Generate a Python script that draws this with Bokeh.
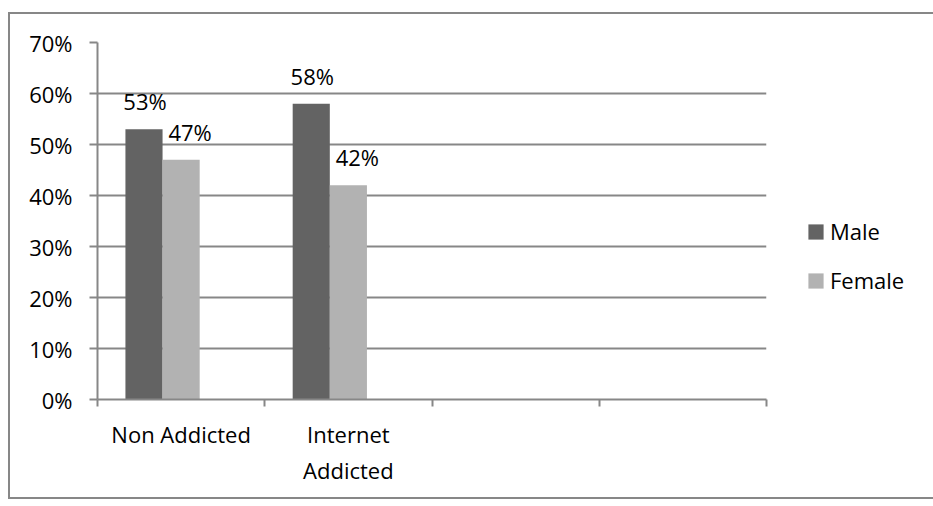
from bokeh.plotting import figure
from bokeh.models import (ColumnDataSource, FixedTicker, NumeralTickFormatter,
                          Legend, LegendItem)
from bokeh.core.properties import value
from bokeh.embed import file_html
from bokeh.resources import INLINE

categories = ["Non Addicted", "Internet\nAddicted", "", ""]
male = [0.53, 0.58]
female = [0.47, 0.42]
male_labels = ["53%", "58%"]
female_labels = ["47%", "42%"]

FONT = "Open Sans"
FS = "22px"
GRID = "#878787"
MALE_COLOR = "#636363"
FEMALE_COLOR = "#b2b2b2"

# each category holds three bar slots; the female bar sits in the middle one
bar_w = 0.222
centers = [i + 0.5 for i in range(len(male))]

p = figure(frame_width=669, frame_height=357, x_range=(0, 4), y_range=(0, 0.7),
           output_backend="svg", toolbar_location=None,
           min_border_left=87, min_border_right=167,
           min_border_top=28, min_border_bottom=98)
p.margin = (12, 0, 0, 8)
p.styles = {"border-left": f"2px solid {GRID}",
            "border-top": f"2px solid {GRID}",
            "border-bottom": f"2px solid {GRID}"}
p.outline_line_color = None
p.background_fill_color = "white"
p.border_fill_color = "white"

src_m = ColumnDataSource(dict(x=[c - bar_w for c in centers], top=male, lab=male_labels))
src_f = ColumnDataSource(dict(x=centers, top=female, lab=female_labels))

rm = p.vbar(x="x", top="top", width=bar_w, source=src_m, fill_color=MALE_COLOR, line_color=None)
rf = p.vbar(x="x", top="top", width=bar_w, source=src_f, fill_color=FEMALE_COLOR, line_color=None)

for s, dx in ((src_m, 1), (src_f, 9)):
    p.text(x="x", y="top", text="lab", source=s, text_align="center",
           text_baseline="bottom", y_offset=-13, x_offset=dx, text_font=value(FONT),
           text_font_size=FS, text_color="black")

# y axis
p.yaxis.ticker = FixedTicker(ticks=[i / 10 for i in range(8)])
p.yaxis.formatter = NumeralTickFormatter(format="0%")
p.yaxis.major_tick_out = 8
p.yaxis.major_tick_in = 0
p.yaxis.minor_tick_line_color = None
p.yaxis.major_label_standoff = 17
p.yaxis.axis_line_color = GRID
p.yaxis.axis_line_width = 2
p.yaxis.major_tick_line_color = GRID
p.yaxis.major_tick_line_width = 2
p.yaxis.major_label_text_font = FONT
p.yaxis.major_label_text_font_size = FS
p.yaxis.major_label_text_color = "black"

# x axis
p.xaxis.ticker = FixedTicker(ticks=[i + 0.5 for i in range(4)], minor_ticks=list(range(5)))
p.xaxis.major_label_overrides = {i + 0.5: c for i, c in enumerate(categories)}
p.xaxis.major_tick_line_color = None
p.xaxis.minor_tick_out = 7
p.xaxis.minor_tick_in = 0
p.xaxis.minor_tick_line_color = GRID
p.xaxis.minor_tick_line_width = 2
p.xaxis.axis_line_color = GRID
p.xaxis.axis_line_width = 2
p.xaxis.major_label_standoff = 12
p.xaxis.major_label_text_font = FONT
p.xaxis.major_label_text_font_size = FS
p.xaxis.major_label_text_color = "black"

p.xgrid.grid_line_color = None
p.ygrid.ticker = FixedTicker(ticks=[i / 10 for i in range(1, 8)])
p.ygrid.grid_line_color = GRID
p.ygrid.grid_line_width = 2

legend = Legend(items=[LegendItem(label="Male", renderers=[rm]),
                       LegendItem(label="Female", renderers=[rf])],
                location=(40, 104), orientation="vertical",
                glyph_width=19, glyph_height=19, label_standoff=5,
                spacing=19, padding=0, margin=0, border_line_color=None,
                background_fill_alpha=0, label_text_font=FONT,
                label_text_font_size=FS, label_text_color="black")
p.add_layout(legend, "right")

open("out.html", "w").write(file_html(p, INLINE))
